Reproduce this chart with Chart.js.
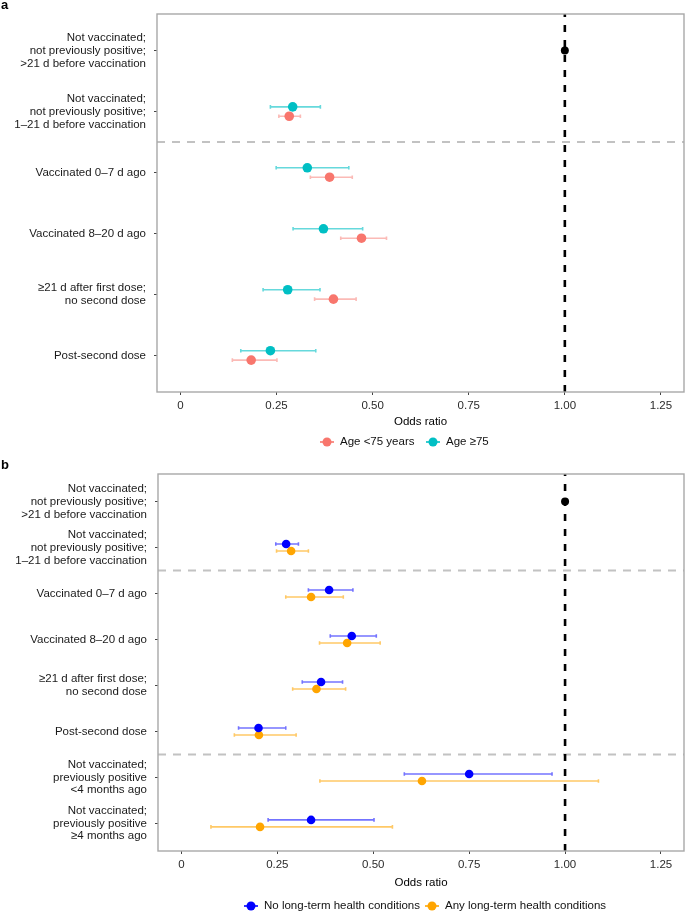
<!DOCTYPE html>
<html>
<head>
<meta charset="utf-8">
<script src="https://cdn.jsdelivr.net/npm/chart.js@4"></script>
<style>
  html, body { margin: 0; padding: 0; background: #fff; }
  canvas { display: block; }
</style>
</head>
<body>
<canvas id="chartA" width="685" height="460"></canvas>
<canvas id="chartB" width="685" height="452"></canvas>
<script>
// ---- data ----
const rowsA = [
  ['Not vaccinated;', 'not previously positive;', '>21 d before vaccination'],
  ['Not vaccinated;', 'not previously positive;', '1\u201321 d before vaccination'],
  'Vaccinated 0\u20137 d ago',
  'Vaccinated 8\u201320 d ago',
  ['\u226521 d after first dose;', 'no second dose'],
  'Post-second dose'
];
const rowsB = rowsA.concat([
  ['Not vaccinated;', 'previously positive', '<4 months ago'],
  ['Not vaccinated;', 'previously positive', '\u22654 months ago']
]);
const xTicks = [0, 0.25, 0.5, 0.75, 1, 1.25];
const referenceOR = 1; // row 1 is the reference group

// panel a (rows 2..6)
const under75OR   = [0.283, 0.388, 0.471, 0.398, 0.184];
const under75Low  = [0.256, 0.338, 0.417, 0.349, 0.135];
const under75High = [0.312, 0.447, 0.536, 0.457, 0.251];
const over75OR    = [0.292, 0.330, 0.372, 0.279, 0.234];
const over75Low   = [0.234, 0.249, 0.293, 0.215, 0.157];
const over75High  = [0.364, 0.438, 0.474, 0.363, 0.352];

// panel b (rows 2..8)
const noLthcOR    = [0.273, 0.385, 0.444, 0.364, 0.201, 0.750, 0.338];
const noLthcLow   = [0.246, 0.331, 0.388, 0.315, 0.149, 0.581, 0.226];
const noLthcHigh  = [0.305, 0.447, 0.508, 0.420, 0.272, 0.966, 0.502];
const anyLthcOR   = [0.286, 0.338, 0.432, 0.352, 0.202, 0.627, 0.205];
const anyLthcLow  = [0.248, 0.272, 0.360, 0.290, 0.138, 0.361, 0.077];
const anyLthcHigh = [0.331, 0.422, 0.518, 0.428, 0.299, 1.087, 0.550];

const FONT = "'Liberation Sans', Arial, Helvetica, sans-serif";

// error bars, separators and the OR = 1 line
const forestPlugin = {
  id: 'forest',
  beforeDatasetsDraw(chart, args, opts) {
    const { ctx, chartArea: a, scales: { x, y } } = chart;
    ctx.save();
    chart.data.datasets.forEach(ds => {
      if (!ds.errLow) return;
      ctx.strokeStyle = ds.barColor;
      ctx.lineWidth = 1.6;
      ds.data.forEach((p, i) => {
        const x0 = x.getPixelForValue(ds.errLow[i]);
        const x1 = x.getPixelForValue(ds.errHigh[i]);
        const py = y.getPixelForValue(p.y);
        ctx.beginPath();
        ctx.moveTo(x0, py); ctx.lineTo(x1, py);
        ctx.moveTo(x0, py - 1.8); ctx.lineTo(x0, py + 1.8);
        ctx.moveTo(x1, py - 1.8); ctx.lineTo(x1, py + 1.8);
        ctx.stroke();
      });
    });
    ctx.setLineDash([8, 7]);
    ctx.strokeStyle = '#c2c2c2';
    ctx.lineWidth = 2;
    opts.separators.forEach(v => {
      const py = y.getPixelForValue(v);
      ctx.beginPath(); ctx.moveTo(a.left, py); ctx.lineTo(a.right, py); ctx.stroke();
    });
    ctx.setLineDash([7, 8]);
    ctx.strokeStyle = '#000';
    ctx.lineWidth = 2.6;
    const px = x.getPixelForValue(referenceOR);
    ctx.beginPath(); ctx.moveTo(px, a.bottom); ctx.lineTo(px, a.top); ctx.stroke();
    ctx.restore();
  },
  afterDraw(chart, args, opts) {
    const { ctx, chartArea: a } = chart;
    ctx.save();
    // panel box
    ctx.strokeStyle = '#a8a8a8';
    ctx.lineWidth = 1.4;
    ctx.strokeRect(a.left, a.top, a.right - a.left, a.bottom - a.top);
    // panel tag
    ctx.fillStyle = '#000';
    ctx.font = 'bold 13px ' + FONT;
    ctx.textAlign = 'left';
    ctx.textBaseline = 'alphabetic';
    ctx.fillText(opts.tag, 1, 9);
    // axis title
    ctx.font = '11.5px ' + FONT;
    ctx.textAlign = 'center';
    ctx.textBaseline = 'middle';
    ctx.fillText('Odds ratio', (a.left + a.right) / 2, opts.titleY);
    // legend
    opts.legend.forEach(item => {
      ctx.strokeStyle = item.color;
      ctx.lineWidth = 1.6;
      ctx.beginPath(); ctx.moveTo(item.x - 7, opts.legendY); ctx.lineTo(item.x + 7, opts.legendY); ctx.stroke();
      ctx.fillStyle = item.color;
      ctx.beginPath(); ctx.arc(item.x, opts.legendY, 4.5, 0, Math.PI * 2); ctx.fill();
      ctx.fillStyle = '#111';
      ctx.textAlign = 'left';
      ctx.fillText(item.label, item.textX, opts.legendY);
    });
    ctx.restore();
  }
};

function seriesData(values, dodge) {
  return values.map((v, i) => ({ x: v, y: i + 2 + dodge }));
}

function makeChart(id, rows, datasets, yAxisWidth, bottomPad, forestOpts) {
  return new Chart(document.getElementById(id), {
    type: 'scatter',
    data: {
      datasets: [{
        data: [{ x: referenceOR, y: 1 }],
        pointRadius: 4,
        pointBackgroundColor: '#000',
        pointBorderWidth: 0
      }].concat(datasets)
    },
    options: {
      responsive: false,
      animation: false,
      devicePixelRatio: 1,
      layout: { autoPadding: false, padding: { top: 14, right: 1, bottom: bottomPad, left: 0 } },
      plugins: { legend: { display: false }, tooltip: { enabled: false }, forest: forestOpts },
      scales: {
        x: {
          type: 'linear',
          min: -0.061,
          max: 1.31,
          afterBuildTicks: s => { s.ticks = xTicks.map(v => ({ value: v })); },
          afterFit: s => { s.height = 30; s.paddingLeft = 0; s.paddingRight = 0; },
          border: { display: false },
          grid: { drawOnChartArea: false, drawTicks: true, tickLength: 3, tickColor: '#444' },
          ticks: {
            padding: 4,
            color: '#2b2b2b',
            font: { family: FONT, size: 11.5 },
            callback: v => v === 0 ? '0' : v.toFixed(2)
          }
        },
        y: {
          type: 'linear',
          reverse: true,
          min: 0.4,
          max: rows.length + 0.6,
          afterBuildTicks: s => { s.ticks = rows.map((r, i) => ({ value: i + 1 })); },
          afterFit: s => { s.width = yAxisWidth; s.paddingTop = 0; s.paddingBottom = 0; },
          border: { display: false },
          grid: { drawOnChartArea: false, drawTicks: true, tickLength: 3, tickColor: '#444' },
          ticks: {
            autoSkip: false,
            padding: 8,
            color: '#1a1a1a',
            font: { family: FONT, size: 11.5, lineHeight: 1.12 },
            callback: v => rows[Math.round(v) - 1]
          }
        }
      }
    },
    plugins: [forestPlugin]
  });
}

// panel a
makeChart('chartA', rowsA, [
  {
    data: seriesData(over75OR, -0.077),
    errLow: over75Low, errHigh: over75High,
    barColor: 'rgba(0,191,196,0.6)',
    pointRadius: 4.8, pointBackgroundColor: '#00BFC4', pointBorderWidth: 0
  },
  {
    data: seriesData(under75OR, 0.077),
    errLow: under75Low, errHigh: under75High,
    barColor: 'rgba(248,118,109,0.5)',
    pointRadius: 4.8, pointBackgroundColor: '#F8766D', pointBorderWidth: 0
  }
], 157, 38, {
  tag: 'a',
  separators: [2.5],
  titleY: 422,
  legendY: 442,
  legend: [
    { label: 'Age <75 years', color: '#F8766D', x: 327, textX: 340 },
    { label: 'Age \u226575', color: '#00BFC4', x: 433, textX: 446 }
  ]
});

// panel b
makeChart('chartB', rowsB, [
  {
    data: seriesData(noLthcOR, -0.076),
    errLow: noLthcLow, errHigh: noLthcHigh,
    barColor: 'rgba(0,0,255,0.55)',
    pointRadius: 4.3, pointBackgroundColor: '#0000FF', pointBorderWidth: 0
  },
  {
    data: seriesData(anyLthcOR, 0.076),
    errLow: anyLthcLow, errHigh: anyLthcHigh,
    barColor: 'rgba(255,165,0,0.6)',
    pointRadius: 4.3, pointBackgroundColor: '#FFA500', pointBorderWidth: 0
  }
], 158, 31, {
  tag: 'b',
  separators: [2.5, 6.5],
  titleY: 423,
  legendY: 446,
  legend: [
    { label: 'No long-term health conditions', color: '#0000FF', x: 251, textX: 264 },
    { label: 'Any long-term health conditions', color: '#FFA500', x: 432, textX: 445 }
  ]
});
</script>
</body>
</html>
